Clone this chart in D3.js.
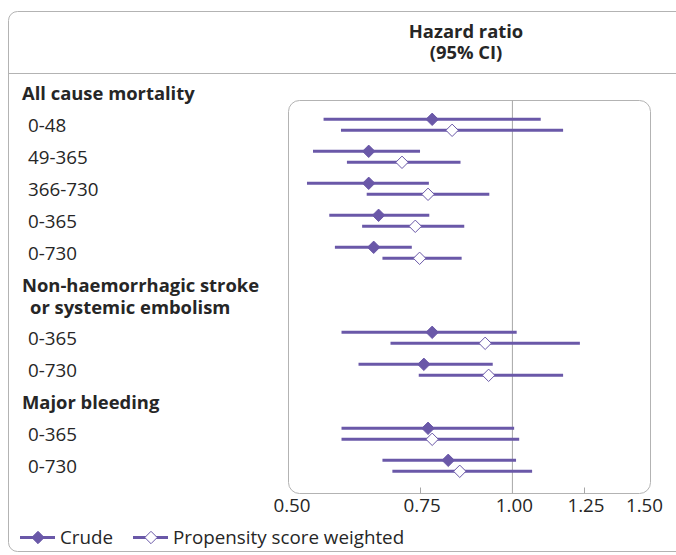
<!DOCTYPE html>
<html>
<head>
<meta charset="utf-8">
<script src="https://cdn.jsdelivr.net/npm/d3@7"></script>
<style>
  body { margin: 0; background: #fff; }
  text { font-family: "Open Sans", "Noto Sans", sans-serif; fill: #262626; }
</style>
</head>
<body>
<svg id="chart" width="676" height="555"></svg>
<script>
// rows of the forest plot, top to bottom
var rowLabels = ["All cause mortality", "0-48", "49-365", "366-730", "0-365", "0-730",
                 "Non-haemorrhagic stroke|or systemic embolism", "0-365", "0-730",
                 "Major bleeding", "0-365", "0-730"];
var rowIsHeader = [true, false, false, false, false, false, true, false, false, true, false, false];

// hazard ratios (null for header rows)
var crudeHR = [null, 0.78, 0.64, 0.64, 0.66, 0.65, null, 0.78, 0.76, null, 0.77, 0.82];
var crudeLo = [null, 0.556, 0.538, 0.528, 0.566, 0.576, null, 0.588, 0.620, null, 0.588, 0.668];
var crudeHi = [null, 1.094, 0.751, 0.772, 0.773, 0.732, null, 1.015, 0.942, null, 1.007, 1.013];

var psHR = [null, 0.83, 0.71, 0.77, 0.74, 0.75, null, 0.92, 0.93, null, 0.78, 0.85];
var psLo = [null, 0.587, 0.598, 0.636, 0.627, 0.668, null, 0.685, 0.748, null, 0.588, 0.689];
var psHi = [null, 1.173, 0.852, 0.932, 0.862, 0.855, null, 1.236, 1.173, null, 1.023, 1.065];

var tickValues = [0.50, 0.75, 1.00, 1.25, 1.50];

var svg = d3.select("#chart");
var purple = "#6a58a8",
    frameCol = "#b3b3b3",
    fontSize = "18.8px",
    boldSize = "18.4px";

var x = d3.scaleLog().domain([0.5, 1.5]).range([289.5, 642]);

// row y positions: 32px per row, the two-line header adds one extra line
var rowY = [];
var yy = 93.5;
rowLabels.forEach(function(d, i) {
  rowY.push(yy);
  yy += 32 + (d.indexOf("|") >= 0 ? 21 : 0);
});
// marks sit on the same row centres as the labels
var markY = rowY.map(function(d) { return d - 0.7; });

// outer frame and header divider
svg.append("rect")
   .attr("x", 8.5).attr("y", 11.5)
   .attr("width", 720).attr("height", 540)
   .attr("rx", 9)
   .attr("fill", "none").attr("stroke", frameCol);

svg.append("line")
   .attr("x1", 8).attr("x2", 676)
   .attr("y1", 73.5).attr("y2", 73.5)
   .attr("stroke", frameCol);

svg.append("text")
   .attr("x", 466).attr("y", 38)
   .attr("text-anchor", "middle")
   .style("font-size", boldSize).style("font-weight", "bold")
   .text("Hazard ratio");
svg.append("text")
   .attr("x", 466).attr("y", 59)
   .attr("text-anchor", "middle")
   .style("font-size", boldSize).style("font-weight", "bold")
   .text("(95% CI)");

// plot panel
var panelTop = 100.5, panelBottom = 493.5;
svg.append("rect")
   .attr("x", 288.5).attr("y", panelTop)
   .attr("width", 362).attr("height", panelBottom - panelTop)
   .attr("rx", 11)
   .attr("fill", "none").attr("stroke", frameCol);

svg.append("line")
   .attr("x1", x(1) + 0.5).attr("x2", x(1) + 0.5)
   .attr("y1", panelTop).attr("y2", panelBottom)
   .attr("stroke", "#a6a6a6");

// small inner ticks
svg.selectAll(".inner-tick")
   .data([0.75, 1.25])
   .enter().append("line")
   .attr("class", "inner-tick")
   .attr("x1", function(d) { return Math.round(x(d)) + 0.5; })
   .attr("x2", function(d) { return Math.round(x(d)) + 0.5; })
   .attr("y1", panelBottom - 6).attr("y2", panelBottom)
   .attr("stroke", "#a6a6a6");

// axis labels
var axis = d3.axisBottom(x)
             .tickValues(tickValues)
             .tickSize(0)
             .tickPadding(0)
             .tickFormat(d3.format(".2f"));
var axisG = svg.append("g")
               .attr("transform", "translate(2," + 499 + ")")
               .call(axis);
axisG.select(".domain").remove();
axisG.selectAll("text")
     .attr("fill", "#262626")
     .style("font-family", "'Open Sans', sans-serif")
     .style("font-size", fontSize);

// row labels
var labels = svg.selectAll(".row-label")
                .data(rowLabels)
                .enter().append("text")
                .attr("class", "row-label")
                .attr("y", function(d, i) { return rowY[i] + 6.5; })
                .style("font-size", function(d, i) { return rowIsHeader[i] ? boldSize : fontSize; })
                .style("font-weight", function(d, i) { return rowIsHeader[i] ? "bold" : "normal"; });
labels.each(function(d, i) {
  var parts = d.split("|");
  var t = d3.select(this);
  parts.forEach(function(p, j) {
    t.append("tspan")
     .attr("x", rowIsHeader[i] ? (j == 0 ? 22 : 30) : 28)
     .attr("dy", j == 0 ? 0 : 22)
     .text(p);
  });
});

// diamonds
var diamond = d3.symbol().type(d3.symbolDiamond2).size(98);

function drawSeries(hr, lo, hi, offset, filled) {
  var g = svg.append("g");
  var idx = d3.range(hr.length).filter(function(i) { return hr[i] != null; });
  g.selectAll("line")
   .data(idx)
   .enter().append("line")
   .attr("x1", function(i) { return x(lo[i]); })
   .attr("x2", function(i) { return x(hi[i]); })
   .attr("y1", function(i) { return markY[i] + offset; })
   .attr("y2", function(i) { return markY[i] + offset; })
   .attr("stroke", purple)
   .attr("stroke-width", 3);
  g.selectAll("path")
   .data(idx)
   .enter().append("path")
   .attr("d", diamond)
   .attr("transform", function(i) { return "translate(" + x(hr[i]) + "," + (markY[i] + offset) + ")"; })
   .attr("fill", filled ? purple : "#fff")
   .attr("stroke", purple)
   .attr("stroke-width", 1);
}
drawSeries(crudeHR, crudeLo, crudeHi, -5.5, true);
drawSeries(psHR, psLo, psHi, 5.5, false);

// legend
var legend = svg.append("g").attr("transform", "translate(0,537.5)");
[{name: "Crude", x0: 20, filled: true}, {name: "Propensity score weighted", x0: 133, filled: false}]
  .forEach(function(d) {
    legend.append("line")
          .attr("x1", d.x0).attr("x2", d.x0 + 35)
          .attr("stroke", purple).attr("stroke-width", 3);
    legend.append("path")
          .attr("d", diamond)
          .attr("transform", "translate(" + (d.x0 + 18) + ",0)")
          .attr("fill", d.filled ? purple : "#fff")
          .attr("stroke", purple);
    legend.append("text")
          .attr("x", d.x0 + 40).attr("y", 6.5)
          .style("font-size", fontSize)
          .text(d.name);
  });
</script>
</body>
</html>
